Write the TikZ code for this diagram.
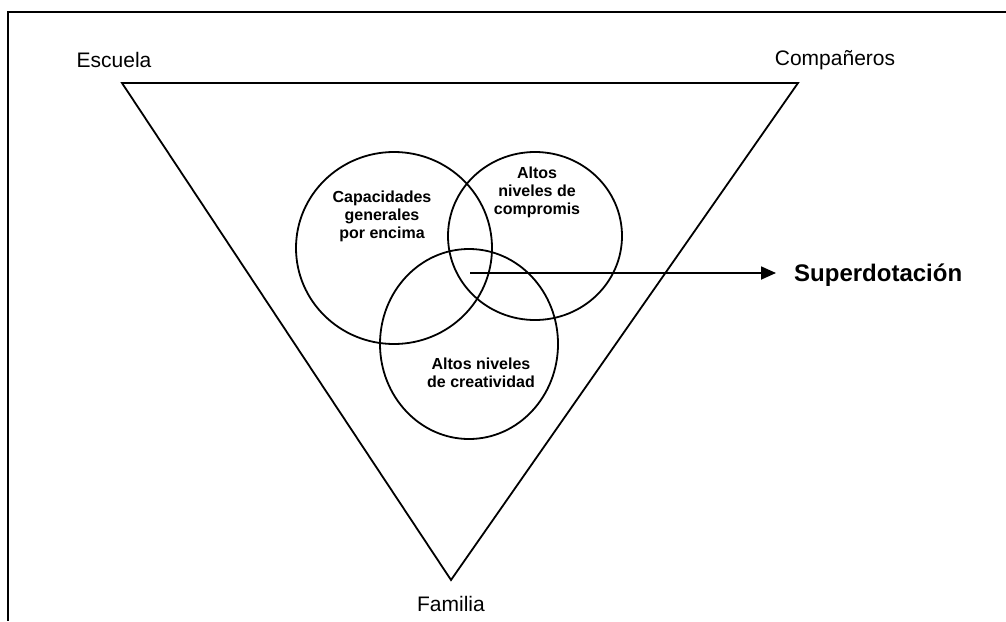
\documentclass[tikz,border=0pt]{standalone}
\usepackage{fontspec}
\setmainfont{Liberation Sans}
\usetikzlibrary{shapes.geometric,arrows.meta}
\begin{document}
\begin{tikzpicture}[x=1pt,y=-1pt,
  line/.style={line width=1.8pt,black},
  ring/.style={draw,line width=1.8pt,ellipse,inner sep=0pt},
  corner/.style={font=\fontsize{21}{25}\selectfont,inner sep=0pt},
  intext/.style={font=\fontsize{16}{18}\selectfont\bfseries,align=center,inner sep=0pt}]
\useasboundingbox (0,0) rectangle (1006,621);
% frame (top and left only)
\coordinate (f1) at (1006,12);
\coordinate (f2) at (8,12);
\coordinate (f3) at (8,621);
\draw[line] (f1) -- (f2) -- (f3);
% triangle
\coordinate (tl) at (122,83);
\coordinate (tr) at (798,83);
\coordinate (bt) at (451,580);
\draw[line,line join=miter] (tl) -- (tr) -- (bt) -- cycle;
% labels
\node[corner] (esc) at (114,60) {Escuela};
\node[corner] (comp) at (835,60) {Compañeros};
\node[corner] (fam) at (451,604) {Familia};
% circles
\node[ring,minimum width=196pt,minimum height=192pt] (c1) at (394,248) {};
\node[ring,minimum width=174pt,minimum height=168pt] (c2) at (535,236) {};
\node[ring,minimum width=178pt,minimum height=190pt] (c3) at (469,344) {};
% circle texts
\node[intext] (t1) at (382,216) {Capacidades\\generales\\por encima};
\node[intext] (t2) at (537,192) {Altos\\niveles de\\compromis};
\node[intext] (t3) at (481,373) {Altos niveles\\de creatividad};
% arrow
\coordinate (as) at (470,273);
\coordinate (ae) at (776,273);
\draw[line,-{Triangle[length=15pt,width=13pt]}] (as) -- (ae);
\node[font=\fontsize{24}{28}\selectfont\bfseries,anchor=west,inner sep=0pt] (sup) at (794,275) {Superdotación};
\end{tikzpicture}
\end{document}
